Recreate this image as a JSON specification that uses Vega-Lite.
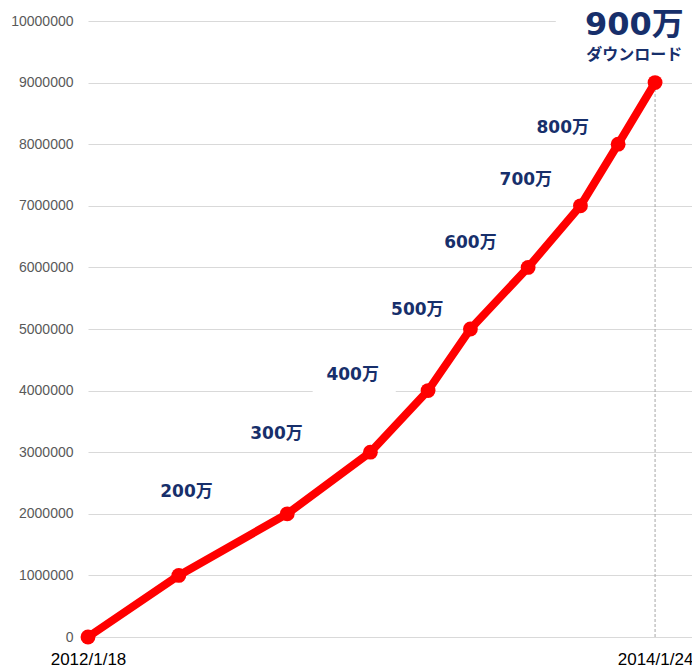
{
  "$schema": "https://vega.github.io/schema/vega-lite/v6.json",
  "width": 604,
  "height": 616,
  "autosize": {"type": "none"},
  "padding": {"left": 88, "top": 21, "right": 0, "bottom": 33},
  "background": "#ffffff",
  "config": {"view": {"stroke": null}},
  "datasets": {
    "downloads": [
      {"date": "2012-01-18", "count": 0},
      {"date": "2012-05-15", "count": 1000000},
      {"date": "2012-10-03", "count": 2000000},
      {"date": "2013-01-19", "count": 3000000},
      {"date": "2013-04-04", "count": 4000000},
      {"date": "2013-05-29", "count": 5000000},
      {"date": "2013-08-12", "count": 6000000},
      {"date": "2013-10-19", "count": 7000000},
      {"date": "2013-12-07", "count": 8000000},
      {"date": "2014-01-24", "count": 9000000}
    ],
    "labels": [
      {"date": "2012-05-25", "count": 2350000, "label": "200万"},
      {"date": "2012-09-19", "count": 3300000, "label": "300万"},
      {"date": "2012-12-27", "count": 4250000, "label": "400万"},
      {"date": "2013-03-21", "count": 5310000, "label": "500万"},
      {"date": "2013-05-29", "count": 6390000, "label": "600万"},
      {"date": "2013-08-09", "count": 7420000, "label": "700万"},
      {"date": "2013-09-26", "count": 8270000, "label": "800万"}
    ],
    "boxes": [
      {"start": "2012-11-05", "end": "2013-02-21", "low": 3930000, "high": 4460000},
      {"start": "2013-09-17", "end": "2014-03-13", "low": 9800000, "high": 10300000}
    ]
  },
  "layer": [
    {
      "data": {"name": "boxes"},
      "mark": {"type": "rect", "color": "#ffffff", "clip": false},
      "encoding": {
        "x": {
          "field": "start",
          "type": "temporal",
          "scale": {"domain": [{"year": 2012, "month": 1, "date": 18, "utc": true}, {"year": 2014, "month": 3, "date": 13, "utc": true}]},
          "axis": {
            "title": null,
            "values": [{"year": 2012, "month": 1, "date": 18, "utc": true}, {"year": 2014, "month": 1, "date": 24, "utc": true}],
            "labelExpr": "utcFormat(datum.value, '%Y/%-m/%-d')",
            "grid": false,
            "ticks": false,
            "domain": false,
            "labelFont": "Liberation Sans",
            "labelFontSize": 17,
            "labelColor": "#000000",
            "labelPadding": 14,
            "labelFlush": false
          }
        },
        "x2": {"field": "end"},
        "y": {
          "field": "low",
          "type": "quantitative",
          "scale": {"domain": [0, 10000000], "nice": false},
          "axis": {
            "title": null,
            "values": [0, 1000000, 2000000, 3000000, 4000000, 5000000, 6000000, 7000000, 8000000, 9000000, 10000000],
            "format": "d",
            "ticks": false,
            "domain": false,
            "gridColor": "#d9d9d9",
            "gridWidth": 1,
            "labelFont": "Liberation Sans",
            "labelFontSize": 14,
            "labelColor": "#595959",
            "labelPadding": 15
          }
        },
        "y2": {"field": "high"}
      }
    },
    {
      "data": {"values": [{"date": "2014-01-24", "top": 9000000, "bottom": 0}]},
      "mark": {"type": "rule", "color": "#a6a6a6", "strokeWidth": 1, "strokeDash": [3, 2]},
      "encoding": {
        "x": {"field": "date", "type": "temporal"},
        "y": {"field": "bottom", "type": "quantitative"},
        "y2": {"field": "top"}
      }
    },
    {
      "data": {"name": "downloads"},
      "mark": {"type": "line", "color": "#ff0000", "strokeWidth": 8, "strokeJoin": "round"},
      "encoding": {
        "x": {"field": "date", "type": "temporal"},
        "y": {"field": "count", "type": "quantitative"}
      }
    },
    {
      "data": {"name": "downloads"},
      "mark": {"type": "point", "shape": "circle", "filled": true, "color": "#ff0000", "opacity": 1, "size": 220},
      "encoding": {
        "x": {"field": "date", "type": "temporal"},
        "y": {"field": "count", "type": "quantitative"}
      }
    },
    {
      "data": {"name": "labels"},
      "mark": {"type": "text", "font": "DejaVu Sans, Noto Sans CJK JP", "fontWeight": "bold", "fontSize": 17, "color": "#172f6b", "align": "center", "baseline": "middle"},
      "encoding": {
        "x": {"field": "date", "type": "temporal"},
        "y": {"field": "count", "type": "quantitative"},
        "text": {"field": "label"}
      }
    },
    {
      "data": {"values": [{"date": "2013-12-28", "count": 9775000, "label": "900万"}]},
      "mark": {"type": "text", "font": "DejaVu Sans, Noto Sans CJK JP", "fontWeight": "bold", "fontSize": 32, "color": "#172f6b", "align": "center", "baseline": "alphabetic", "clip": false},
      "encoding": {
        "x": {"field": "date", "type": "temporal"},
        "y": {"field": "count", "type": "quantitative"},
        "text": {"field": "label"}
      }
    },
    {
      "data": {"values": [{"date": "2013-12-28", "count": 9440000, "label": "ダウンロード"}]},
      "mark": {"type": "text", "font": "Noto Sans CJK JP", "fontWeight": "bold", "fontSize": 16, "color": "#172f6b", "align": "center", "baseline": "middle"},
      "encoding": {
        "x": {"field": "date", "type": "temporal"},
        "y": {"field": "count", "type": "quantitative"},
        "text": {"field": "label"}
      }
    }
  ]
}
